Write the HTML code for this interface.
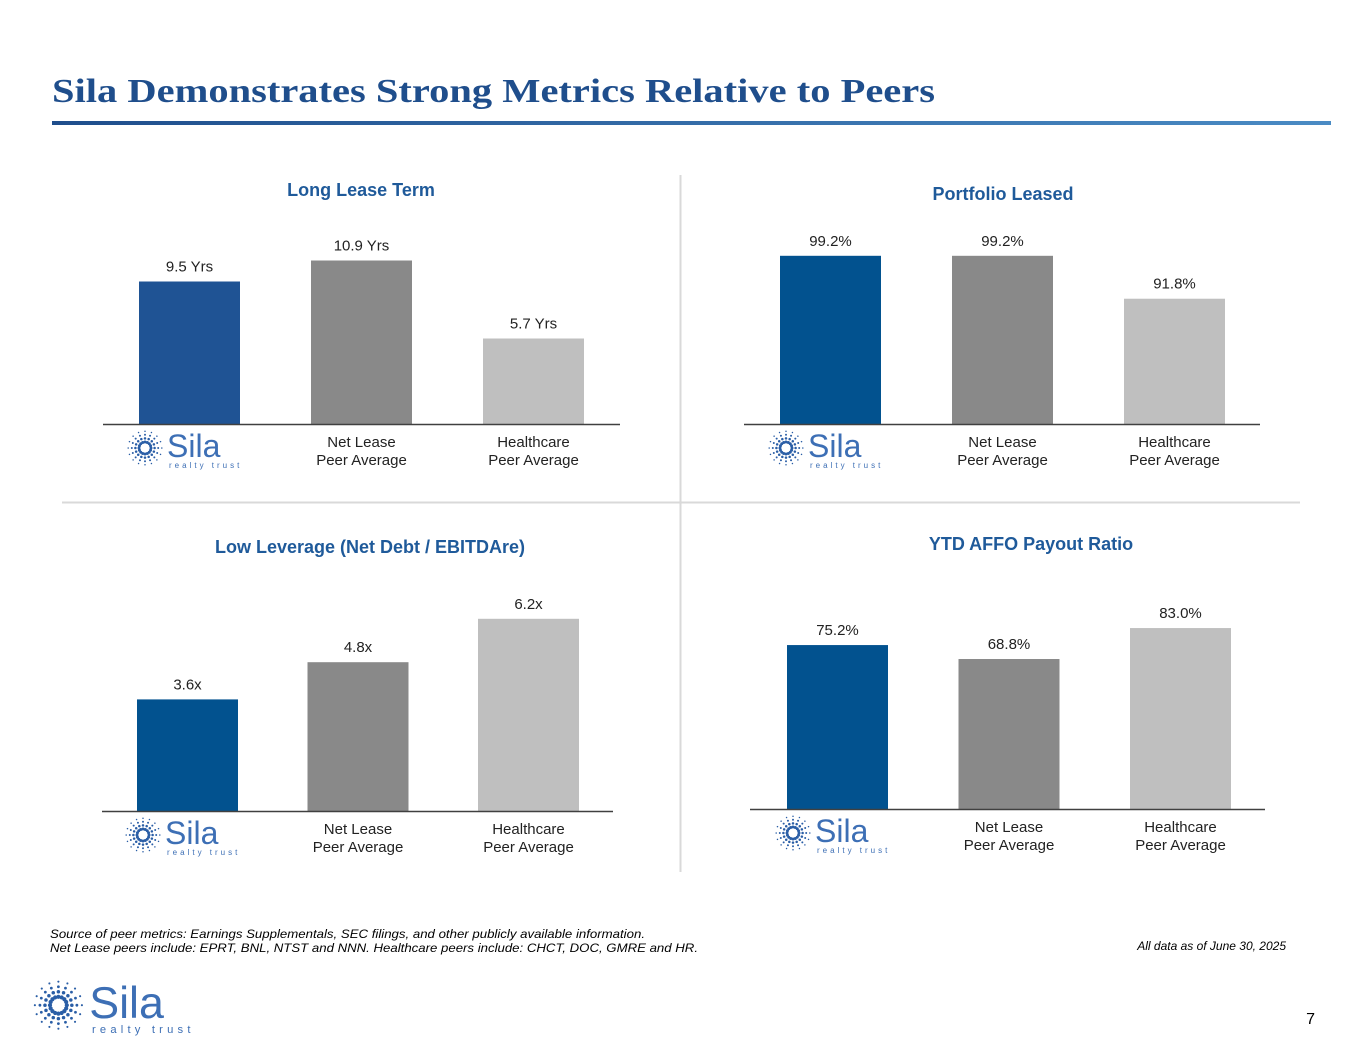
<!DOCTYPE html>
<html><head><meta charset="utf-8"><style>
html,body{margin:0;padding:0;background:#fff;}
svg{display:block;font-family:"Liberation Sans",Arial,sans-serif;}
</style></head><body>
<svg id="page" width="1365" height="1055" viewBox="0 0 1365 1055" xmlns="http://www.w3.org/2000/svg">
<defs>
<linearGradient id="rule" x1="0" x2="1" y1="0" y2="0"><stop offset="0" stop-color="#1f4e8c"/><stop offset="1" stop-color="#4a8bc4"/></linearGradient>
</defs>
<text x="52" y="102" font-family="Liberation Serif,serif" font-weight="bold" font-size="34" fill="#1f4e8c" textLength="883" lengthAdjust="spacingAndGlyphs">Sila Demonstrates Strong Metrics Relative to Peers</text>
<rect x="52" y="121" width="1279" height="4" fill="url(#rule)"/>
<line x1="680.5" y1="175" x2="680.5" y2="872" stroke="#d9d9d9" stroke-width="2"/>
<line x1="62" y1="502.5" x2="1300" y2="502.5" stroke="#d9d9d9" stroke-width="2"/>
<g id="charts"></g>
<text font-style="italic" font-size="12" fill="#000">
<tspan x="50" y="938" textLength="595" lengthAdjust="spacingAndGlyphs">Source of peer metrics: Earnings Supplementals, SEC filings, and other publicly available information.</tspan>
<tspan x="50" y="952" textLength="648" lengthAdjust="spacingAndGlyphs">Net Lease peers include: EPRT, BNL, NTST and NNN. Healthcare peers include: CHCT, DOC, GMRE and HR.</tspan>
</text>
<text x="1286" y="950" text-anchor="end" font-style="italic" font-size="12" fill="#000">All data as of June 30, 2025</text>
<text x="1315" y="1024" text-anchor="end" font-size="16" fill="#000">7</text>
<g id="footer-logo"></g>
</svg>
<script>
// ---- chart data ----
const categories = ["Sila", "Net Lease|Peer Average", "Healthcare|Peer Average"];
const leaseTermValues = [9.5, 10.9, 5.7];
const leaseTermLabels = ["9.5 Yrs", "10.9 Yrs", "5.7 Yrs"];
const leasedValues = [99.2, 99.2, 91.8];
const leasedLabels = ["99.2%", "99.2%", "91.8%"];
const leverageValues = [3.6, 4.8, 6.2];
const leverageLabels = ["3.6x", "4.8x", "6.2x"];
const payoutValues = [75.2, 68.8, 83.0];
const payoutLabels = ["75.2%", "68.8%", "83.0%"];

const NS = "http://www.w3.org/2000/svg";
function mk(tag, attrs, parent) {
  const e = document.createElementNS(NS, tag);
  for (const k in attrs) e.setAttribute(k, attrs[k]);
  if (parent) parent.appendChild(e);
  return e;
}
function drawLogo(parent, x, y, s) {
  const g = mk("g", {transform: "translate(" + x + "," + y + ") scale(" + s + ")"}, parent);
  
  
  const cx = 16, cy = 18;
  for (let i = 0; i < 16; i++) {
    const a = i / 16 * Math.PI * 2;
    for (let j = 0; j < 4; j++) {
      const r = 6 + j * 3.6;
      mk("circle", {cx: cx + Math.cos(a) * r, cy: cy + Math.sin(a) * r, r: 1.5 - j * 0.25, fill: "#2a5ea6"}, g);
    }
  }
  const t = mk("text", {x: 38, y: 27, "font-size": 32, fill: "#3d6fb5"}, g);
  t.textContent = "Sila";
  const t2 = mk("text", {x: 40, y: 38, "font-size": 8, fill: "#3d6fb5", "letter-spacing": "3"}, g);
  t2.textContent = "realty trust";
}
const colors = ["#0d4f8f", "#898989", "#bfbfbf"];
function drawChart(cfg) {
  const root = document.getElementById("charts");
  const g = mk("g", {}, root);
  
  
  const title = mk("text", {x: cfg.titleX, y: cfg.titleY, "text-anchor": "middle", "font-weight": "bold", "font-size": 18, fill: "#1f5a9a"}, g);
  
  
  title.textContent = cfg.title;
  const y = v => cfg.base - (v - cfg.min) * cfg.scale;
  cfg.values.forEach((v, i) => {
    const bx = cfg.barX[0] + i * cfg.step;
    const r = mk("rect", {x: bx, y: y(v), width: cfg.bw, height: cfg.base - y(v), fill: i === 0 ? cfg.silaColor : colors[i]}, g);
    
    
    const lt = mk("text", {x: bx + cfg.bw / 2, y: y(v) - 10, "text-anchor": "middle", "font-size": 15, fill: "#222"}, g);
    
    
    lt.textContent = cfg.labels[i];
    if (i === 0) {
      drawLogo(g, bx - 10, cfg.base + 6, 1);
    } else {
      const parts = categories[i].split("|");
      const ct = mk("text", {"text-anchor": "middle", "font-size": 15, fill: "#222"}, g);
      
      
      parts.forEach((p, k) => {
        const ts = mk("tspan", {x: bx + cfg.bw / 2, y: cfg.base + 23 + k * 18}, ct);
        ts.textContent = p;
      });
    }
  });
  const ax = mk("line", {x1: cfg.axisX[0], x2: cfg.axisX[1], y1: cfg.base + 0.5, y2: cfg.base + 0.5, stroke: "#404040", "stroke-width": 1.5}, g);
  
  
}
drawChart({name: "long-lease-term-chart", title: "Long Lease Term", titleX: 361, titleY: 196, values: leaseTermValues, labels: leaseTermLabels,
  base: 424, min: 0, scale: 15, barX: [139], step: 172, bw: 101, axisX: [103, 620], silaColor: "#1f5394"});
drawChart({name: "portfolio-leased-chart", title: "Portfolio Leased", titleX: 1003, titleY: 200, values: leasedValues, labels: leasedLabels,
  base: 424, min: 70.2, scale: 5.8, barX: [780], step: 172, bw: 101, axisX: [744, 1260], silaColor: "#02528f"});
drawChart({name: "leverage-chart", title: "Low Leverage (Net Debt / EBITDAre)", titleX: 370, titleY: 553, values: leverageValues, labels: leverageLabels,
  base: 811, min: 0, scale: 31, barX: [137], step: 170.5, bw: 101, axisX: [102, 613], silaColor: "#02528f"});
drawChart({name: "affo-payout-chart", title: "YTD AFFO Payout Ratio", titleX: 1031, titleY: 550, values: payoutValues, labels: payoutLabels,
  base: 809, min: 0, scale: 2.18, barX: [787], step: 171.5, bw: 101, axisX: [750, 1265], silaColor: "#02528f"});
drawLogo(document.getElementById("footer-logo"), 36, 980, 1.4);
</script>
</body></html>
